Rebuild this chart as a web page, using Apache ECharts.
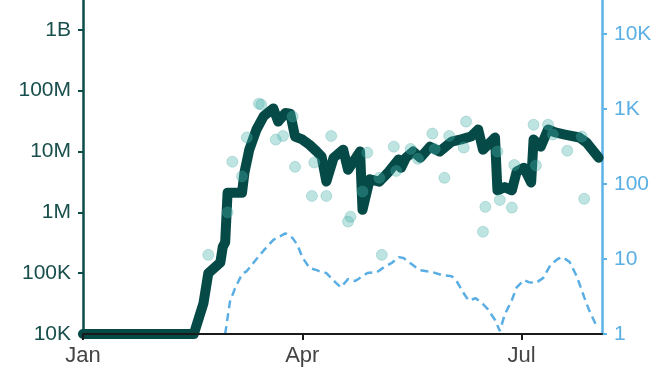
<!DOCTYPE html>
<html>
<head>
<meta charset="utf-8">
<script src="https://cdn.jsdelivr.net/npm/echarts@6/dist/echarts.min.js"></script>
<style>
html,body{margin:0;padding:0;background:#fff;}
#chart{width:658px;height:375px;}
</style>
</head>
<body>
<div id="chart"></div>
<script>
// ---- data ----
const lineDates = ['2020-01-01','2020-02-16','2020-02-20','2020-02-22','2020-02-27','2020-02-28','2020-02-29','2020-03-01','2020-03-07','2020-03-08','2020-03-10','2020-03-13','2020-03-16','2020-03-20','2020-03-22','2020-03-25','2020-03-27','2020-03-29','2020-04-01','2020-04-04','2020-04-07','2020-04-09','2020-04-11','2020-04-14','2020-04-18','2020-04-20','2020-04-25','2020-04-26','2020-04-29','2020-05-03','2020-05-07','2020-05-11','2020-05-12','2020-05-14','2020-05-17','2020-05-20','2020-05-24','2020-05-28','2020-06-02','2020-06-06','2020-06-10','2020-06-13','2020-06-15','2020-06-20','2020-06-21','2020-06-24','2020-06-27','2020-06-29','2020-07-02','2020-07-05','2020-07-06','2020-07-09','2020-07-12','2020-07-15','2020-07-19','2020-07-25','2020-07-28','2020-08-02'];
const lineValues = [1e4,1e4,3.2e4,1.0e5,1.5e5,2.7e5,3.2e5,2.1e6,2.1e6,4.5e6,1.07e7,2.3e7,3.8e7,5.1e7,3.1e7,4.3e7,4.2e7,1.76e7,1.58e7,1.29e7,1.0e7,8.3e6,3.2e6,7.9e6,1.07e7,5.0e6,1.0e7,1.1e6,3.5e6,3.2e6,4.7e6,7.4e6,5.4e6,7.9e6,1.0e7,7.9e6,1.2e7,1.0e7,1.45e7,1.58e7,1.76e7,2.3e7,1.07e7,1.7e7,2.3e6,2.6e6,2.3e6,4.7e6,5.4e6,3.1e6,1.58e7,1.2e7,2.3e7,2.06e7,1.9e7,1.7e7,1.4e7,7.9e6];

const pointDates = ['2020-02-22','2020-03-01','2020-03-03','2020-03-07','2020-03-09','2020-03-14','2020-03-15','2020-03-21','2020-03-24','2020-03-28','2020-03-29','2020-04-06','2020-04-05','2020-04-11','2020-04-13','2020-04-20','2020-04-21','2020-04-26','2020-04-28','2020-05-03','2020-05-04','2020-05-09','2020-05-10','2020-05-16','2020-05-19','2020-05-25','2020-05-26','2020-05-30','2020-06-01','2020-06-07','2020-06-08','2020-06-15','2020-06-16','2020-06-21','2020-06-22','2020-06-28','2020-06-27','2020-07-06','2020-07-07','2020-07-12','2020-07-14','2020-07-20','2020-07-26','2020-07-27'];
const pointValues = [2.0e5,1.0e6,6.8e6,3.9e6,1.7e7,6.1e7,5.9e7,1.57e7,1.8e7,3.76e7,5.6e6,6.6e6,1.86e6,1.86e6,1.8e7,7.05e5,8.5e5,2.2e6,9.6e6,3.7e6,2.0e5,1.2e7,4.8e6,1.1e7,7.6e6,1.97e7,1.1e7,3.7e6,1.8e7,1.16e7,3.1e7,4.8e5,1.23e6,1.0e7,1.6e6,6.0e6,1.2e6,2.76e7,5.9e6,2.76e7,1.9e7,1.03e7,1.76e7,1.67e6];

const dashDates = ['2020-02-29','2020-03-02','2020-03-04','2020-03-07','2020-03-09','2020-03-13','2020-03-16','2020-03-20','2020-03-25','2020-03-28','2020-03-30','2020-04-01','2020-04-04','2020-04-07','2020-04-09','2020-04-11','2020-04-15','2020-04-17','2020-04-20','2020-04-23','2020-04-28','2020-05-02','2020-05-05','2020-05-08','2020-05-11','2020-05-13','2020-05-18','2020-05-20','2020-05-25','2020-05-29','2020-06-02','2020-06-04','2020-06-07','2020-06-09','2020-06-12','2020-06-15','2020-06-17','2020-06-20','2020-06-22','2020-06-24','2020-06-27','2020-06-29','2020-07-02','2020-07-04','2020-07-07','2020-07-10','2020-07-13','2020-07-16','2020-07-18','2020-07-21','2020-07-24','2020-07-27','2020-07-29','2020-08-01'];
const dashValues = [1.0,2.7,4.0,6.3,6.9,10,13,18,22,19,15.4,10.6,7.6,7.1,6.7,6.5,4.8,4.2,5.4,5.1,6.5,6.7,7.8,8.8,10.6,10.3,7.8,7.1,6.7,6.1,5.9,5.1,3.5,2.8,3.0,2.5,2.15,1.54,1.1,1.8,2.84,4.2,5.25,4.9,4.8,5.6,8.3,10,10.6,9.1,5.8,3.1,2.1,1.3];

const xTickDates = ['2020-01-01','2020-04-01','2020-07-01'];
const xTickLabels = ['Jan','Apr','Jul'];
const leftTickValues = [1e4,1e5,1e6,1e7,1e8,1e9];
const leftTickLabels = ['10K','100K','1M','10M','100M','1B'];
const rightTickValues = [1,10,100,1000,10000];
const rightTickLabels = ['1','10','100','1K','10K'];

// ---- helpers ----
const ORIGIN = Date.UTC(2020,0,1);
function dayNum(s){ const p = s.split('-').map(Number); return (Date.UTC(p[0],p[1]-1,p[2]) - ORIGIN)/86400000; }
function pairs(ds, vs){ return ds.map((d,i)=>[dayNum(d), vs[i]]); }
function labelFor(vals, labs){
  return function(v){
    for (let i=0;i<vals.length;i++){ if (Math.abs(Math.log10(v) - Math.log10(vals[i])) < 1e-6) return labs[i]; }
    return '';
  };
}
const xTicks = xTickDates.map(dayNum);

const FONT = 'Liberation Sans';
const chart = echarts.init(document.getElementById('chart'), null, {renderer:'canvas'});
chart.setOption({
  animation:false,
  backgroundColor:'#ffffff',
  grid:{left:83, right:56, top:-31, bottom:41, outerBoundsMode:'none'},
  xAxis:{
    type:'value', min:0, max:215.4,
    splitLine:{show:false},
    axisLine:{show:true, lineStyle:{color:'#1a1a1a', width:2}},
    axisTick:{show:true, customValues:xTicks, length:6, lineStyle:{color:'#1a1a1a', width:2}},
    axisLabel:{customValues:xTicks, margin:11, color:'#444444', fontFamily:FONT, fontSize:22,
      formatter:function(v){ const i = xTicks.findIndex(t=>Math.abs(t-v)<1e-6); return i>=0 ? xTickLabels[i] : ''; }},
    z:10
  },
  yAxis:[{
    type:'log', logBase:10, min:1e4, max:1e10, position:'left',
    splitLine:{show:false},
    axisLine:{show:true, lineStyle:{color:'#0c4d4a', width:2.5}},
    axisTick:{show:true, length:5, lineStyle:{color:'#0c4d4a', width:2}},
    axisLabel:{margin:12, color:'#184e4b', fontFamily:FONT, fontSize:21, formatter:labelFor(leftTickValues,leftTickLabels)}
  },{
    type:'log', logBase:10, min:1, max:Math.pow(10,4.867), position:'right',
    splitLine:{show:false},
    axisLine:{show:true, lineStyle:{color:'#5db3e8', width:2.5}},
    axisTick:{show:true, length:5, lineStyle:{color:'#5db3e8', width:2}},
    axisLabel:{margin:12, color:'#5aafe3', fontFamily:FONT, fontSize:21, formatter:labelFor(rightTickValues,rightTickLabels)}
  }],
  series:[
    {type:'line', yAxisIndex:1, data:pairs(dashDates,dashValues), showSymbol:false, symbol:'none',
     lineStyle:{color:'#5aaee3', width:2.5, type:[8,5]}, z:1},
    {type:'line', yAxisIndex:0, data:pairs(lineDates,lineValues), showSymbol:false, symbol:'none',
     lineStyle:{color:'#064a47', width:10, cap:'round', join:'round'}, z:2},
    {type:'scatter', yAxisIndex:0, data:pairs(pointDates,pointValues), symbol:'circle', symbolSize:11,
     itemStyle:{color:'rgba(74,180,174,0.45)', borderColor:'rgba(60,160,155,0.35)', borderWidth:1}, z:3}
  ]
});
</script>
</body>
</html>
